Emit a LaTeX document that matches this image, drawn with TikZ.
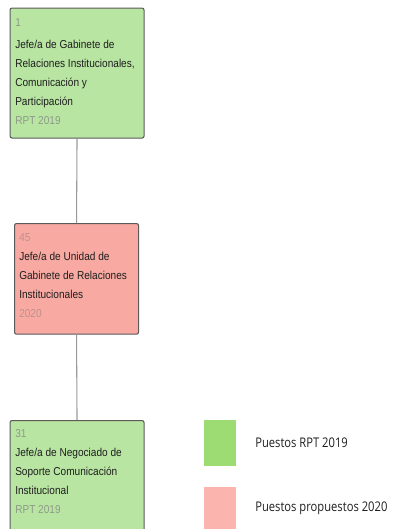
\documentclass[tikz,border=0pt]{standalone}
\usepackage{fontspec}
\newfontfamily\boxfont[FakeStretch=0.88]{Liberation Sans}
\newfontfamily\legfont[FakeStretch=0.84]{Open Sans}
\definecolor{boxgreen}{HTML}{B9E5A3}
\definecolor{boxpink}{HTML}{F8AAA2}
\definecolor{leggreen}{HTML}{9DDC72}
\definecolor{legpink}{HTML}{FBB5AE}
\definecolor{bordergray}{HTML}{5A5A5A}
\definecolor{linegray}{HTML}{9A9A9A}
\definecolor{subgray}{HTML}{8E9A88}
\definecolor{subpink}{HTML}{C0908B}
\definecolor{txt}{HTML}{1E1E1E}
\tikzset{
  orgbox/.style={draw=bordergray, line width=0.8pt, rounded corners=1.5pt, anchor=north west, inner sep=0pt},
  boxtext/.style={anchor=north west, align=left, inner sep=0pt, font=\boxfont\fontsize{8.6pt}{14.25pt}\selectfont, text=txt},
  legbox/.style={draw=none, anchor=north west, inner sep=0pt, minimum width=24pt, minimum height=34.5pt},
  legtext/.style={anchor=west, inner sep=0pt, font=\legfont\fontsize{10pt}{12pt}\selectfont, text=txt},
  connector/.style={draw=linegray, line width=0.8pt}
}
\begin{document}
\begin{tikzpicture}[x=0.75pt,y=-0.75pt]
\useasboundingbox (0,0) rectangle (393,529);
\clip (0,0) rectangle (393,529);
% boxes
\node[orgbox, fill=boxgreen, minimum width=100.5pt, minimum height=97.5pt] (b1) at (9.5,7.5) {};
\node[orgbox, fill=boxpink, minimum width=93pt, minimum height=83pt] (b2) at (14,223) {};
\node[orgbox, fill=boxgreen, minimum width=100.5pt, minimum height=90pt] (b3) at (9.5,420) {};
% texts
\node[boxtext] (t1) at (15,18) {\textcolor{subgray}{1}\\[2.5pt]Jefe/a de Gabinete de\\Relaciones Institucionales,\\Comunicación y\\Participación\\\textcolor{subgray}{RPT 2019}};
\node[boxtext] (t2) at (19,233.5) {\textcolor{subpink}{45}\\Jefe/a de Unidad de\\Gabinete de Relaciones\\Institucionales\\\textcolor{subpink}{2020}};
\node[boxtext] (t3) at (15,429.5) {\textcolor{subgray}{31}\\Jefe/a de Negociado de\\Soporte Comunicación\\Institucional\\\textcolor{subgray}{RPT 2019}};
% connectors
\draw[connector] (b1.south) -- (b2.north);
\draw[connector] (b2.south) -- (b3.north);
% legend
\node[legbox, fill=leggreen] (l1) at (204,420) {};
\node[legbox, fill=legpink] (l2) at (204,487) {};
\node[legtext] (lt1) at (255,443) {Puestos RPT 2019};
\node[legtext] (lt2) at (255,508) {Puestos propuestos 2020};
\end{tikzpicture}
\end{document}
